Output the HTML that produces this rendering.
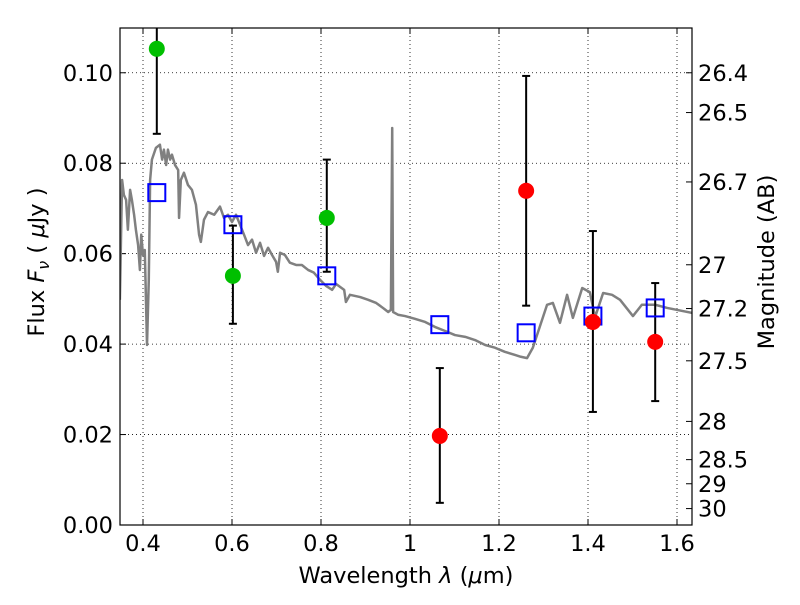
<!DOCTYPE html>
<html><head><meta charset="utf-8"><style>
body{margin:0;background:#fff}
svg text{font-family:"DejaVu Sans","Liberation Sans",sans-serif;fill:#000}
</style></head><body>
<svg id="chart" width="800" height="600" xmlns="http://www.w3.org/2000/svg"></svg>
<script>
const specLam=[0.348,0.353,0.357,0.362,0.366,0.371,0.375,0.380,0.384,0.389,0.393,0.396,0.400,0.404,0.409,0.413,0.416,0.420,0.429,0.438,0.443,0.447,0.452,0.456,0.461,0.465,0.472,0.479,0.481,0.485,0.492,0.501,0.510,0.519,0.526,0.530,0.537,0.546,0.560,0.573,0.582,0.591,0.600,0.609,0.618,0.627,0.636,0.645,0.654,0.663,0.672,0.681,0.690,0.699,0.703,0.708,0.719,0.730,0.744,0.757,0.771,0.784,0.798,0.811,0.825,0.834,0.852,0.856,0.865,0.888,0.906,0.924,0.942,0.951,0.957,0.960,0.962,0.973,0.989,1.011,1.034,1.056,1.079,1.101,1.124,1.146,1.169,1.191,1.213,1.236,1.249,1.263,1.276,1.308,1.321,1.337,1.353,1.366,1.387,1.404,1.416,1.434,1.454,1.472,1.501,1.521,1.551,1.578,1.634];
const specFlux=[0.0498,0.0763,0.0730,0.0719,0.0653,0.0741,0.0719,0.0686,0.0653,0.0619,0.0564,0.0642,0.0597,0.0608,0.0398,0.0542,0.0763,0.0808,0.0834,0.0841,0.0808,0.0830,0.0796,0.0830,0.0808,0.0819,0.0796,0.0785,0.0679,0.0763,0.0779,0.0752,0.0741,0.0708,0.0642,0.0626,0.0675,0.0692,0.0686,0.0704,0.0679,0.0686,0.0670,0.0686,0.0664,0.0642,0.0619,0.0631,0.0602,0.0624,0.0595,0.0613,0.0597,0.0582,0.0560,0.0602,0.0597,0.0580,0.0575,0.0575,0.0564,0.0558,0.0542,0.0529,0.0520,0.0533,0.0520,0.0493,0.0509,0.0504,0.0498,0.0491,0.0478,0.0471,0.0476,0.0878,0.0471,0.0465,0.0462,0.0456,0.0449,0.0438,0.0429,0.0420,0.0416,0.0409,0.0398,0.0392,0.0383,0.0376,0.0372,0.0369,0.0392,0.0487,0.0491,0.0447,0.0509,0.0458,0.0524,0.0515,0.0460,0.0513,0.0509,0.0498,0.0462,0.0487,0.0487,0.0480,0.0469];
const greenLam=[0.431,0.602,0.813];
const greenFlux=[0.1053,0.0551,0.0679];
const greenLo=[0.0865,0.0445,0.0560];
const greenHi=[0.125,0.0662,0.0808];
const redLam=[1.067,1.261,1.411,1.551];
const redFlux=[0.0197,0.0739,0.0449,0.0405];
const redLo=[0.0049,0.0485,0.0250,0.0274];
const redHi=[0.0347,0.0993,0.0650,0.0535];
const modelLam=[0.431,0.602,0.813,1.067,1.261,1.411,1.551];
const modelFlux=[0.0735,0.0664,0.0551,0.0443,0.0425,0.0462,0.0480];
const xTicks=[0.4,0.6,0.8,1.0,1.2,1.4,1.6];
const xTickLabels=["0.4","0.6","0.8","1","1.2","1.4","1.6"];
const yTicks=[0,0.02,0.04,0.06,0.08,0.10];
const yTickLabels=["0.00","0.02","0.04","0.06","0.08","0.10"];
const magTicks=[26.4,26.5,26.7,27,27.2,27.5,28,28.5,29,30];
const magTickLabels=["26.4","26.5","26.7","27","27.2","27.5","28","28.5","29","30"];

const L=120,R=692,T=28,B=525;
const xmin=0.3483,xmax=1.6337,ymin=0,ymax=0.1099;
const X=v=>L+(v-xmin)/(xmax-xmin)*(R-L);
const Y=v=>B-(v-ymin)/(ymax-ymin)*(B-T);
const svg=document.getElementById('chart');
const NS='http://www.w3.org/2000/svg';
function mk(tag,at,parent){const e=document.createElementNS(NS,tag);for(const k in at)e.setAttribute(k,at[k]);(parent||svg).appendChild(e);return e;}
const FS=22.5;
const clip=mk('clipPath',{id:'cp'});mk('rect',{x:L,y:T,width:R-L,height:B-T},clip);
xTicks.forEach((t,i)=>{const g=mk('line',{x1:X(t),x2:X(t),y1:T,y2:B,stroke:'#000','stroke-width':0.8,'stroke-dasharray':'1,3'});


mk('line',{x1:X(t),x2:X(t),y1:B,y2:B-6,stroke:'#000'});mk('line',{x1:X(t),x2:X(t),y1:T,y2:T+6,stroke:'#000'});
const tx=mk('text',{x:X(t),y:B+26,'text-anchor':'middle','font-size':FS});tx.textContent=xTickLabels[i];

});
yTicks.forEach((t,i)=>{const g=mk('line',{x1:L,x2:R,y1:Y(t),y2:Y(t),stroke:'#000','stroke-width':0.8,'stroke-dasharray':'1,3'});


mk('line',{x1:L,x2:L+6,y1:Y(t),y2:Y(t),stroke:'#000'});
const tx=mk('text',{x:L-7,y:Y(t)+8,'text-anchor':'end','font-size':FS});tx.textContent=yTickLabels[i];

});
magTicks.forEach((m,i)=>{const f=Math.pow(10,(23.9-m)/2.5);const y=Y(f);
mk('line',{x1:R,x2:R-6,y1:y,y2:y,stroke:'#000'});
const tx=mk('text',{x:R+6,y:y+8,'font-size':FS});tx.textContent=magTickLabels[i];

});
const sp=mk('polyline',{points:specLam.map((l,i)=>X(l)+','+Y(specFlux[i])).join(' '),fill:'none',stroke:'#808080','stroke-width':2.5,'clip-path':'url(#cp)','stroke-linejoin':'round'});


function ebars(lam,lo,hi,name){lam.forEach((l,i)=>{const g=mk('g',{'clip-path':'url(#cp)'});


mk('line',{x1:X(l),x2:X(l),y1:Y(lo[i]),y2:Y(hi[i]),stroke:'#000','stroke-width':2},g);
[lo[i],hi[i]].forEach(v=>mk('line',{x1:X(l)-4,x2:X(l)+4,y1:Y(v),y2:Y(v),stroke:'#000','stroke-width':2},g));});}
ebars(greenLam,greenLo,greenHi,'green-error-bar');
ebars(redLam,redLo,redHi,'red-error-bar');
modelLam.forEach((l,i)=>{const r=mk('rect',{x:X(l)-8.5,y:Y(modelFlux[i])-8.5,width:17,height:17,fill:'none',stroke:'#0000ff','stroke-width':2});

});
greenLam.forEach((l,i)=>{const c=mk('circle',{cx:X(l),cy:Y(greenFlux[i]),r:8,fill:'#00bf00'});

});
redLam.forEach((l,i)=>{const c=mk('circle',{cx:X(l),cy:Y(redFlux[i]),r:8,fill:'#ff0000'});

});
const fr=mk('rect',{x:L,y:T,width:R-L,height:B-T,fill:'none',stroke:'#000','stroke-width':1.2});


const xl=mk('text',{x:406,y:583,'text-anchor':'middle','font-size':FS});
xl.innerHTML='Wavelength  <tspan font-style="italic">λ</tspan> (<tspan font-style="italic">μ</tspan>m)';


const yl=mk('text',{x:0,y:0,'text-anchor':'middle','font-size':FS,transform:'translate(44,262) rotate(-90)'});
yl.innerHTML='Flux  <tspan font-style="italic">F</tspan><tspan font-style="italic" font-size="16" dy="5">ν</tspan><tspan dy="-5">  (  </tspan><tspan font-style="italic">μ</tspan>Jy )';


const rl=mk('text',{x:0,y:0,'text-anchor':'middle','font-size':FS,transform:'translate(774,262) rotate(-90)'});
rl.textContent='Magnitude (AB)';


</script>
</body></html>
